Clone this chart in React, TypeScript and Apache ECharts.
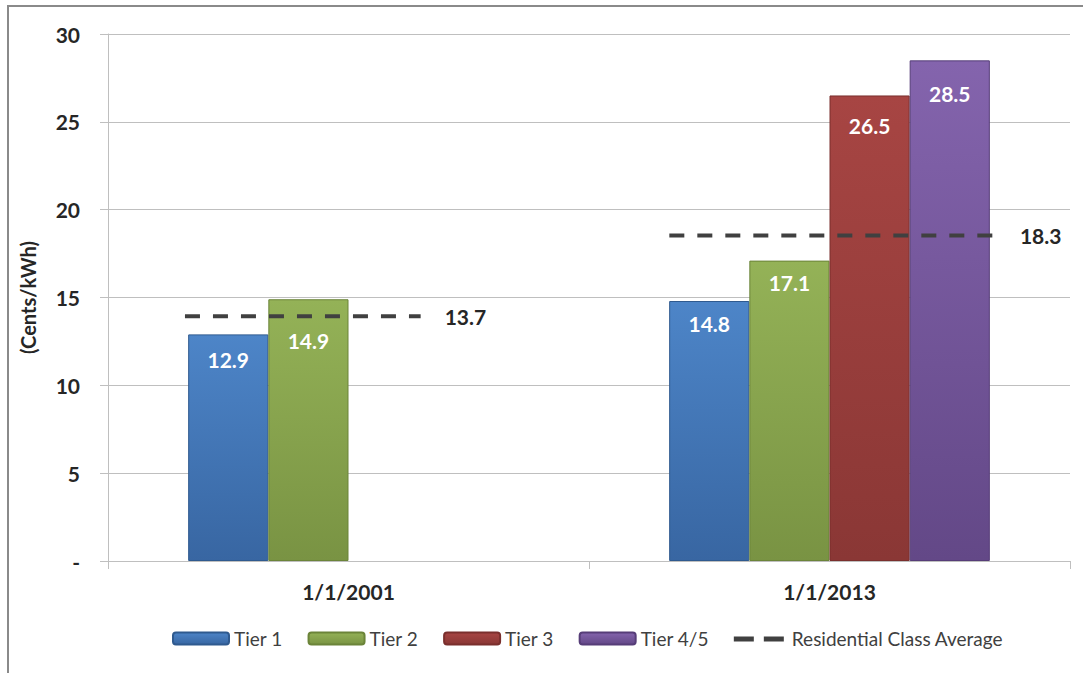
import React, { useEffect, useRef } from "react";
import * as echarts from "echarts";

const categories = ["1/1/2001", "1/1/2013"];
const tierNames = ["Tier 1", "Tier 2", "Tier 3", "Tier 4/5"];
const tier1 = [12.9, 14.8];
const tier2 = [14.9, 17.1];
const tier3: (number | null)[] = [null, 26.5];
const tier45: (number | null)[] = [null, 28.5];
const averageName = "Residential Class Average";
const averages = [13.7, 18.3];
const yTicks = [0, 5, 10, 15, 20, 25, 30];

// layout: dashed average line extents as fractions of the category band width
const AVG_SPAN = [
  [-0.34, 0.15],
  [-0.333, 0.346],
];
const AVG_LIFT = -4; // px, visual offset of the dashed line as in the original
// layout: label distance from bar top, per tier per category (px)
const LABEL_DIST = [
  [15, 12],
  [31, 11],
  [0, 20],
  [0, 23],
];

const FONT = "Lato, 'Noto Sans', sans-serif";

const grad = (top: string, bottom: string) =>
  new echarts.graphic.LinearGradient(0, 0, 0, 1, [
    { offset: 0, color: top },
    { offset: 1, color: bottom },
  ]);

const tierColors = [
  grad("#4d85c8", "#3866a2"),
  grad("#94b257", "#799343"),
  grad("#a74543", "#8a3735"),
  grad("#8464ad", "#634887"),
];
const tierBorders = ["#2f5a8f", "#6b8439", "#7a2f2d", "#563d78"];

export default function App() {
  const ref = useRef<HTMLDivElement>(null);
  useEffect(() => {
    document.body.style.margin = "0";
    if (!ref.current) return;
    const chart = echarts.init(ref.current, undefined, { renderer: "svg" });
    const tierData = [tier1, tier2, tier3, tier45];
    const barSeries = tierNames.map((name, i) => ({
      name,
      type: "bar",
      data: tierData[i].map((v, j) =>
        v == null ? null : { value: v, label: { distance: LABEL_DIST[i][j] } }
      ),
      barGap: "0%",
      barCategoryGap: "33.333%",
      itemStyle: { color: tierColors[i], borderColor: tierBorders[i], borderWidth: 1 },
      label: {
        show: true,
        position: "insideTop",
        distance: 11,
        color: "#ffffff",
        fontFamily: FONT,
        fontWeight: "bold",
        fontSize: 21,
        formatter: (p: any) => Number(p.value).toFixed(1),
      },
    }));
    const option: any = {
      animation: false,
      backgroundColor: "#ffffff",
      graphic: [
        {
          type: "rect",
          shape: { x: 8, y: 6, width: 1100, height: 720 },
          style: { fill: "none", stroke: "#8a8a8a", lineWidth: 2 },
          silent: true,
          z: 100,
        },
      ],
      grid: { left: 108, right: 13, top: 34, bottom: 112, containLabel: false },
      legend: {
        left: 172,
        top: 629,
        padding: 0,
        itemWidth: 56,
        itemHeight: 12,
        itemGap: 25,
        textStyle: { fontFamily: FONT, fontSize: 19, color: "#404040" },
        data: [
          ...tierNames.map((n) => ({ name: n })),
          {
            name: averageName,
            icon: "path://M0,0M0,4h20v5h-20zM30,4h20v5h-20zM50,12",
          },
        ],
      },
      xAxis: {
        type: "category",
        data: categories,
        axisLine: { lineStyle: { color: "#bfbfbf", width: 1 } },
        axisTick: { show: true, length: 8, lineStyle: { color: "#bfbfbf" } },
        axisLabel: {
          margin: 20,
          color: "#262626",
          fontFamily: FONT,
          fontWeight: "bold",
          fontSize: 21,
        },
      },
      yAxis: {
        type: "value",
        min: 0,
        max: 30,
        interval: 5,
        name: "(Cents/kWh)",
        nameLocation: "middle",
        nameGap: 70,
        nameRotate: 90,
        nameTextStyle: { color: "#262626", fontFamily: FONT, fontWeight: "bold", fontSize: 20 },
        axisLine: { show: true, lineStyle: { color: "#bfbfbf" } },
        axisTick: { show: true, length: 8, lineStyle: { color: "#bfbfbf" } },
        splitLine: { lineStyle: { color: "#bfbfbf" } },
        axisLabel: {
          margin: 28,
          color: "#262626",
          fontFamily: FONT,
          fontWeight: "bold",
          fontSize: 21,
          formatter: (v: number) => (v === yTicks[0] ? "-" : String(v)),
        },
      },
      series: [
        ...barSeries,
        {
          name: averageName,
          type: "custom",
          itemStyle: { color: "#404040" },
          data: averages.map((v, i) => [i, v]),
          z: 10,
          renderItem: (params: any, api: any) => {
            const idx = api.value(0);
            const v = api.value(1);
            const c = api.coord([idx, v]);
            const y = c[1] + AVG_LIFT;
            const w = api.size([1, 0])[0];
            const span = AVG_SPAN[params.dataIndex];
            const x1 = c[0] + span[0] * w;
            const x2 = c[0] + span[1] * w;
            return {
              type: "group",
              children: [
                {
                  type: "line",
                  shape: { x1, y1: y, x2, y2: y },
                  style: { stroke: "#404040", lineWidth: 4, lineDash: [15, 13] },
                },
                {
                  type: "text",
                  x: x2 + 24,
                  y: y,
                  style: {
                    text: Number(v).toFixed(1),
                    fill: "#262626",
                    font: `bold 21px ${FONT}`,
                    verticalAlign: "middle",
                  },
                },
              ],
            };
          },
        },
      ],
    };
    chart.setOption(option);
    return () => chart.dispose();
  }, []);
  return <div ref={ref} style={{ width: 1083, height: 673 }} />;
}
